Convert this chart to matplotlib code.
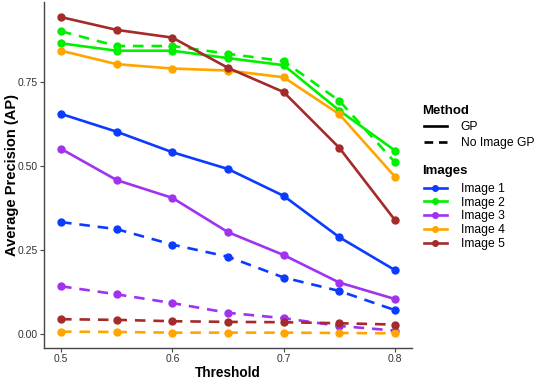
"""
Average precision vs. threshold for GP and No Image GP, one colour per image.
"""

import matplotlib
matplotlib.use('Agg')
import matplotlib.pyplot as plt
from matplotlib.lines import Line2D

plt.rcParams['font.family'] = ['Liberation Sans', 'DejaVu Sans']

# Data
thresholds = [0.5, 0.55, 0.6, 0.65, 0.7, 0.75, 0.8]
image_names = ['Image 1', 'Image 2', 'Image 3', 'Image 4', 'Image 5']
image_colors = ['#0B3BFF', '#00F000', '#A032F0', '#FFA500', '#A52A2A']
method_names = ['GP', 'No Image GP']

gp_image1 = [0.655, 0.602, 0.541, 0.491, 0.411, 0.288, 0.190]
gp_image2 = [0.865, 0.843, 0.843, 0.821, 0.800, 0.665, 0.546]
gp_image3 = [0.551, 0.458, 0.405, 0.303, 0.235, 0.153, 0.104]
gp_image4 = [0.843, 0.803, 0.790, 0.784, 0.764, 0.654, 0.468]
gp_image5 = [0.943, 0.905, 0.882, 0.792, 0.720, 0.554, 0.339]

noimg_image1 = [0.333, 0.312, 0.266, 0.230, 0.168, 0.128, 0.071]
noimg_image2 = [0.901, 0.857, 0.857, 0.834, 0.812, 0.694, 0.511]
noimg_image3 = [0.142, 0.118, 0.092, 0.063, 0.047, 0.024, 0.010]
noimg_image4 = [0.007, 0.006, 0.004, 0.004, 0.004, 0.003, 0.002]
noimg_image5 = [0.044, 0.042, 0.038, 0.036, 0.035, 0.032, 0.028]

gp_series = [gp_image1, gp_image2, gp_image3, gp_image4, gp_image5]
noimg_series = [noimg_image1, noimg_image2, noimg_image3, noimg_image4, noimg_image5]

DASHED = (0, (4, 3))
LW = 1.9
MS = 5
W, H = 534, 386

fig = plt.figure(figsize=(W / 100, H / 100), dpi=100)
ax = fig.add_axes([44 / W, 1 - 348 / H, (412 - 44) / W, (348 - 2) / H])

for vals, color in zip(noimg_series, image_colors):
    ax.plot(thresholds, vals, color=color, linestyle=DASHED, linewidth=LW,
            marker='o', markersize=MS)
for vals, color in zip(gp_series, image_colors):
    ax.plot(thresholds, vals, color=color, linestyle='-', linewidth=LW,
            marker='o', markersize=MS)

ax.set_xlim(0.4847, 0.8153)
ax.set_ylim(-0.0417, 0.988)
ax.set_xticks([0.5, 0.6, 0.7, 0.8])
ax.set_xticklabels(['0.5', '0.6', '0.7', '0.8'])
ax.set_yticks([0.0, 0.25, 0.5, 0.75])
ax.set_yticklabels(['0.00', '0.25', '0.50', '0.75'])

for side in ['top', 'right']:
    ax.spines[side].set_visible(False)
for side in ['left', 'bottom']:
    ax.spines[side].set_color('#444444')
    ax.spines[side].set_linewidth(1.0)
ax.tick_params(axis='both', length=3, width=0.8, color='#444444',
               labelsize=7.5, labelcolor='#333333', pad=1.2)

ax.set_xlabel('Threshold', fontsize=9.8, fontweight='bold', labelpad=1.5)
ax.set_ylabel('Average Precision (AP)', fontsize=10.5, fontweight='bold')
ax.yaxis.set_label_coords(-0.067, 0.5)

# Legends (titles drawn as plain text for tighter control)
fig.text(422 / W, 1 - 111 / H, 'Method', fontsize=9.5, fontweight='bold',
         ha='left', va='center')
fig.text(422 / W, 1 - 171 / H, 'Images', fontsize=9.5, fontweight='bold',
         ha='left', va='center')

method_handles = [
    Line2D([], [], color='black', linewidth=LW, linestyle='-'),
    Line2D([], [], color='black', linewidth=LW, linestyle=(0, (3.3, 2.2))),
]
leg1 = fig.legend(method_handles, method_names,
                  loc='upper left', bbox_to_anchor=(424 / W, 1 - 121 / H),
                  frameon=False, fontsize=8.7,
                  handlelength=1.9, handletextpad=1.15, labelspacing=0.35,
                  borderpad=0, borderaxespad=0)

image_handles = [Line2D([], [], color=c, linewidth=LW, marker='o', markersize=4)
                 for c in image_colors]
leg2 = fig.legend(image_handles, image_names,
                  loc='upper left', bbox_to_anchor=(424 / W, 1 - 183 / H),
                  frameon=False, fontsize=8.7,
                  handlelength=1.9, handletextpad=1.15, labelspacing=0.14,
                  borderpad=0, borderaxespad=0)

fig.savefig('out.png', dpi=100)
